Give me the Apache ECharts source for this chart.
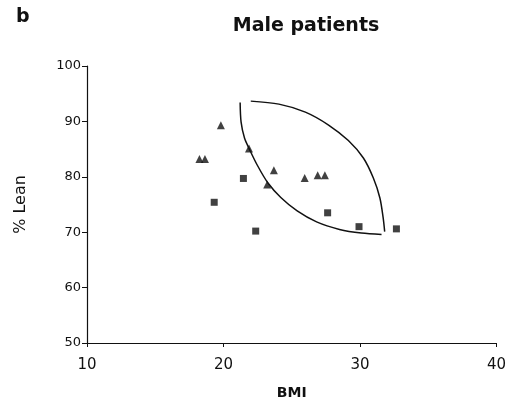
<!DOCTYPE html>
<html>
<head>
<meta charset="utf-8">
<script src="https://cdn.jsdelivr.net/npm/echarts@6/dist/echarts.min.js"></script>
<style>html,body{margin:0;padding:0;background:#fff}#c{width:509px;height:416px}</style>
</head>
<body>
<div id="c"></div>
<script>
var xTicks = [10, 20, 30, 40];
var yTicks = [50, 60, 70, 80, 90, 100];
var triangles = [
  [19.81, 89.3], [18.24, 83.2], [18.64, 83.2], [21.87, 85.1],
  [23.69, 81.2], [23.2, 78.6], [25.95, 79.8], [26.9, 80.3], [27.43, 80.3]
];
var squares = [
  [21.46, 79.7], [19.32, 75.4], [22.36, 70.2], [27.63, 73.5],
  [29.93, 71.0], [32.67, 70.6]
];
var lowerArc = [
  [21.22, 93.42], [21.29, 89.87], [21.54, 86.99], [21.87, 85.14], [22.49, 82.04],
  [23.26, 78.88], [24.20, 76.27], [25.40, 73.84], [26.82, 71.86], [28.50, 70.50],
  [30.10, 69.84], [31.58, 69.60]
];
var upperArc = [
  [22.00, 93.66], [24.06, 93.12], [26.00, 91.68], [27.70, 89.35], [29.15, 86.54],
  [30.25, 83.39], [30.98, 79.78], [31.46, 76.18], [31.70, 72.58], [31.81, 70.11]
];

var chart = echarts.init(document.getElementById('c'), null, {renderer: 'canvas'});
var font = 'DejaVu Sans, Liberation Sans, sans-serif';
chart.setOption({
  animation: false,
  backgroundColor: '#fff',
  title: [
    {text: 'Male patients', left: 301, top: 12, textAlign: 'center',
     textStyle: {fontFamily: font, fontSize: 19, fontWeight: 'bold', color: '#111'}},
    {text: 'b', left: 11, top: 3,
     textStyle: {fontFamily: font, fontSize: 19, fontWeight: 'bold', color: '#111'}}
  ],
  grid: {left: 87, right: 9, top: 66, bottom: 73, containLabel: false},
  xAxis: {
    type: 'value', min: xTicks[0], max: xTicks[xTicks.length - 1], interval: 10,
    name: 'BMI', nameLocation: 'middle', nameGap: 43,
    nameTextStyle: {fontFamily: font, fontSize: 14, fontWeight: 'bold', color: '#111'},
    axisLine: {lineStyle: {color: '#111', width: 1.2}},
    axisTick: {show: true, length: 4, lineStyle: {color: '#111'}},
    axisLabel: {fontFamily: font, fontSize: 15, color: '#111', margin: 15},
    splitLine: {show: false}
  },
  yAxis: {
    type: 'value', min: yTicks[0], max: yTicks[yTicks.length - 1], interval: 10,
    name: '% Lean', nameLocation: 'middle', nameGap: 58, nameRotate: 90,
    nameTextStyle: {fontFamily: font, fontSize: 16, color: '#111'},
    axisLine: {lineStyle: {color: '#111', width: 1.2}},
    axisTick: {show: true, length: 5, lineStyle: {color: '#111'}},
    axisLabel: {fontFamily: font, fontSize: 13, color: '#111', margin: 6},
    splitLine: {show: false}
  },
  series: [
    {type: 'line', data: lowerArc, smooth: 0.3, showSymbol: false, symbol: 'none',
     lineStyle: {color: '#111', width: 1.5}},
    {type: 'line', data: upperArc, smooth: 0.3, showSymbol: false, symbol: 'none',
     lineStyle: {color: '#111', width: 1.5}},
    {type: 'scatter', data: triangles, symbol: 'triangle', symbolSize: 8,
     itemStyle: {color: '#111'}},
    {type: 'scatter', data: squares, symbol: 'rect', symbolSize: 7,
     itemStyle: {color: '#111'}}
  ]
});
</script>
</body>
</html>
